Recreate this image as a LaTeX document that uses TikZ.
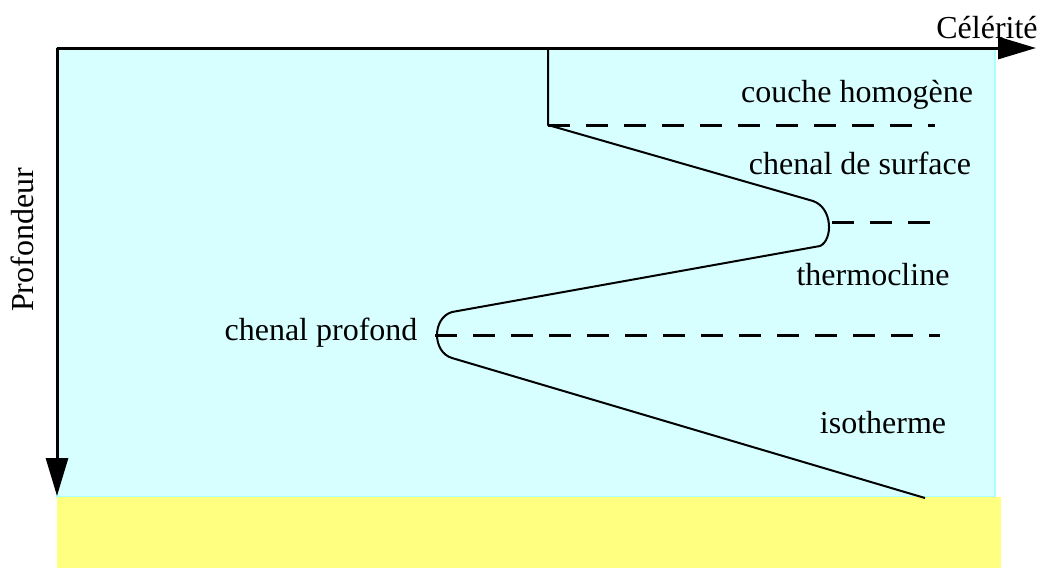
\documentclass[tikz,border=0pt]{standalone}
\usepackage{fontspec}
\setmainfont{Liberation Serif}
\usetikzlibrary{arrows.meta}
\definecolor{eau}{HTML}{D7FFFF}
\definecolor{eaubord}{HTML}{AAFFFF}
\definecolor{fond}{HTML}{FFFF80}
\tikzset{
  axe/.style={line width=1.5pt, -{Triangle[length=19pt,width=11pt]}},
  profil/.style={line width=1pt, line join=round},
  niveau/.style={line width=1.5pt, dash pattern=on 11pt off 8pt},
  etiquette/.style={font=\fontsize{16}{19}\selectfont, inner sep=0pt}
}
\begin{document}
\begin{tikzpicture}[x=0.5pt, y=-0.5pt]
			%%%%% START %%%%%
			\useasboundingbox (0, 0) rectangle (1043, 569);
			
			\draw[fill=eau, draw=eaubord, line width=1pt] (57, 48) rectangle (995, 497);
			\fill[fond] (57, 497) rectangle (1001, 568);
			
			\coordinate (origine) at (57, 48);
			\coordinate (xfin) at (1036, 48);
			\coordinate (yfin) at (57, 496);
			\draw[axe] (origine) -- (xfin);
			\draw[axe] (origine) -- (yfin);
			\node[etiquette] (celerite) at (987, 28) {Célérité};
			\node[etiquette, rotate=90] (profondeur) at (22, 240) {Profondeur};
			
			\coordinate (surface) at (548, 48);
			\coordinate (homogene) at (548, 125);
			\coordinate (chenalsurf) at (832, 222);
			\coordinate (chenalprof) at (435, 335);
			\coordinate (fondprofil) at (925, 498);
			
			\draw[profil] (surface) -- (homogene) -- (813, 201)
			  .. controls (833, 208) and (833, 240) .. (820, 246)
			  -- (452, 312)
			  .. controls (432, 318) and (432, 352) .. (452, 358)
			  -- (fondprofil);
			
			\draw[niveau] (homogene) -- (935, 125);
			\draw[niveau] (chenalsurf) -- (940, 222);
			\draw[niveau] (chenalprof) -- (940, 335);
			
			\node[etiquette] (couche) at (857, 95) {couche homogène};
			\node[etiquette] (surf) at (860, 163) {chenal de surface};
			\node[etiquette] (thermo) at (873, 275) {thermocline};
			\node[etiquette] (prof) at (321, 333) {chenal profond};
			\node[etiquette] (iso) at (883, 423) {isotherme};
			%%%%% END %%%%%
\end{tikzpicture}
\end{document}
